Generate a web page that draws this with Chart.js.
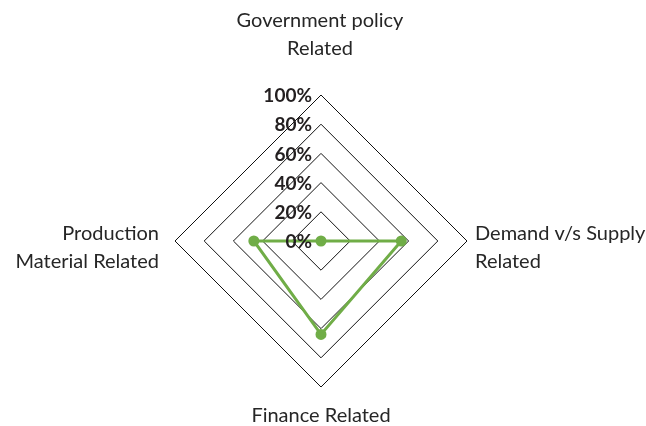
<!DOCTYPE html>
<html>
<head>
<meta charset="utf-8">
<script src="https://cdn.jsdelivr.net/npm/chart.js@4/dist/chart.umd.min.js"></script>
<style>
  html, body { margin: 0; padding: 0; background: #fff; }
  #wrap { width: 646px; height: 426px; }
</style>
</head>
<body>
<div id="wrap"><canvas id="c" width="646" height="426"></canvas></div>
<script>
const categories = [
  ["Government policy", "Related"],
  ["Demand v/s Supply", "Related"],
  ["Finance Related"],
  ["Production", "Material Related"]
];
const seriesValues = [0, 55, 64, 46];
const tickValues = [0, 20, 40, 60, 80, 100];
const tickLabels = ["0%", "20%", "40%", "60%", "80%", "100%"];

const labelFont = '20px Lato';
const tickFont = 'bold 19px Lato';
const textColor = '#262626';

const customText = {
  id: 'customText',
  afterDatasetsDraw(chart) {
    const s = chart.scales.r;
    const ctx = chart.ctx;
    ctx.save();
    ctx.font = tickFont;
    ctx.fillStyle = '#231f20';
    ctx.textAlign = 'right';
    ctx.textBaseline = 'middle';
    tickValues.forEach((v, i) => {
      const p = s.getPointPositionForValue(0, v);
      ctx.fillText(tickLabels[i], s.xCenter - 9, p.y + 1);
    });
    ctx.font = labelFont;
    ctx.fillStyle = textColor;
    ctx.textBaseline = 'alphabetic';
    const lh = 28;
    categories.forEach((lines, i) => {
      const p = s.getPointPositionForValue(i, s.max);
      let x, y, align;
      if (i === 0) { align = 'center'; x = p.x - 1; y = p.y - 68; }
      else if (i === 1) { align = 'left'; x = p.x + 8; y = p.y - 1; }
      else if (i === 2) { align = 'center'; x = p.x; y = p.y + 35; }
      else { align = 'right'; x = p.x - 16; y = p.y - 1; }
      ctx.textAlign = align;
      lines.forEach((t, k) => ctx.fillText(t, x, y + k * lh));
    });
    ctx.restore();
  }
};

new Chart(document.getElementById('c'), {
  type: 'radar',
  data: {
    labels: categories,
    datasets: [{
      data: seriesValues,
      borderColor: '#70ad47',
      backgroundColor: '#70ad47',
      pointBackgroundColor: '#70ad47',
      pointBorderColor: '#70ad47',
      borderWidth: 3,
      pointRadius: 4,
      fill: false
    }]
  },
  options: {
    responsive: false,
    animation: false,
    layout: { padding: { top: 95, bottom: 39, left: 0, right: 4 } },
    plugins: { legend: { display: false }, tooltip: { enabled: false } },
    scales: {
      r: {
        min: 0,
        max: 100,
        ticks: { stepSize: 20, display: false },
        pointLabels: { display: false },
        angleLines: { display: false },
        grid: { color: '#111111', lineWidth: 1 }
      }
    }
  },
  plugins: [customText]
});
</script>
</body>
</html>
